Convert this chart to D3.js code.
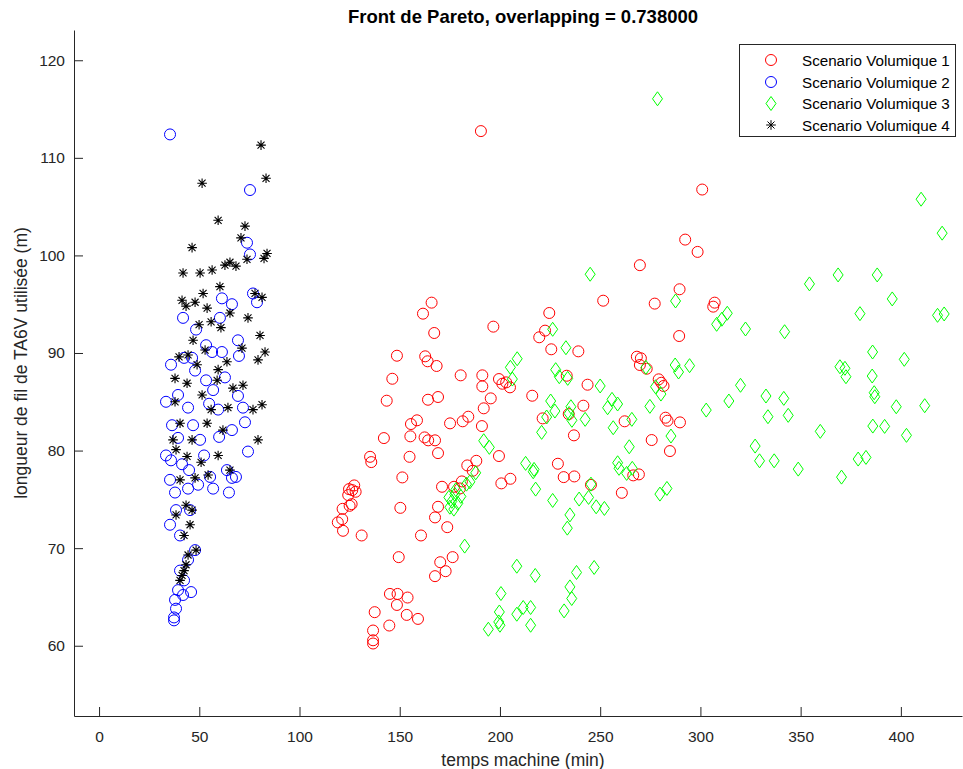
<!DOCTYPE html>
<html><head><meta charset="utf-8">
<script src="https://cdn.jsdelivr.net/npm/d3@7"></script>
<style>body{margin:0;background:#fff}svg{display:block}text{font-family:"Liberation Sans",Arial,sans-serif;fill:#262626}</style>
</head><body>
<svg id="c" width="963" height="769"></svg>
<script>
// Scenario Volumique 1 (red circles)
const s1x=[165.9,161.6,167.2,148.6,162.7,163.9,168.4,146.3,143.5,164.1,169.1,158.6,155.6,175.1,142.1,155.3,162.4,164.2,167.6,169.1,135.2,135.8,154.9,151.3,171.1,177.1,127.3,124.7,128.0,124.3,126.0,125.0,121.5,150.3,169.1,167.6,121.3,119.1,121.7,131.0,160.6,173.7,149.5,176.4,170.2,172.9,167.6,145.1,148.9,153.9,148.6,137.5,153.5,159.1,144.8,136.7,136.7,136.7,126.3,
251.5,224.6,196.7,222.5,219.6,225.6,239.1,180.4,191.2,191.2,199.5,201.2,203.1,205.0,233.3,243.7,216.1,195.4,191.9,241.6,184.2,181.4,221.3,234.3,191.0,236.9,199.5,188.2,183.7,186.4,228.9,231.8,237.1,200.7,205.2,245.4,181.0,180.0,
190.5,300.9,292.4,298.6,269.8,289.6,277.2,307.1,306.4,289.4,268.3,270.3,269.8,273.2,279.2,280.5,281.6,262.2,282.6,283.6,289.8,275.7,284.8,266.5,269.3,260.8];
const s1y=[95.16,94.03,92.05,89.72,89.66,89.15,88.67,87.36,85.11,85.21,85.49,83.10,82.72,82.79,81.28,81.46,81.35,81.05,81.05,79.74,79.36,78.82,79.36,77.25,76.29,76.29,76.43,76.05,75.78,75.44,74.51,74.34,74.03,74.13,74.24,73.15,72.97,72.64,71.78,71.30,71.30,72.15,69.08,69.08,68.56,67.64,67.13,65.31,65.31,64.94,64.18,63.44,63.16,62.75,62.07,61.56,60.56,60.23,75.95,
95.36,94.10,92.70,92.29,91.61,90.38,90.17,87.71,87.71,86.58,87.33,86.85,86.99,86.48,87.67,86.75,85.62,85.35,84.33,84.60,83.47,83.00,83.30,83.74,82.51,81.56,79.44,78.95,78.48,77.93,78.65,77.28,77.35,76.64,77.11,76.49,76.84,76.12,
112.74,106.75,101.62,100.36,99.00,96.53,95.06,95.16,94.75,91.74,89.62,89.46,88.77,88.39,87.30,86.95,86.62,83.00,83.37,83.06,82.89,81.08,79.95,77.46,77.56,75.67];

// Scenario Volumique 2 (blue circles)
const s2x=[35.4,75.3,73.8,75.3,61.3,76.8,78.8,41.9,60.3,66.3,48.4,69.3,53.4,42.4,46.4,56.4,61.3,69.8,62.8,35.9,47.9,53.4,56.9,39.4,44.4,54.9,69.3,71.8,59.4,33.4,36.4,46.9,66.3,39.4,50.4,59.9,72.8,52.4,33.4,35.9,41.4,44.9,55.4,63.8,66.3,68.3,74.3,49.4,56.9,64.8,35.4,37.9,44.4,38.4,35.4,40.4,45.4,47.9,44.4,40.4,42.4,39.4,37.9,38.4,37.4,37.4,45.9,41.9];
const s2y=[112.4,106.7,101.3,100.1,95.6,96.1,95.2,93.6,93.6,95.0,92.4,91.3,90.8,89.5,89.5,90.1,90.1,89.7,87.5,88.8,88.2,87.2,86.2,85.7,84.4,84.8,85.6,84.4,84.2,85.0,82.6,82.6,82.1,81.3,81.1,81.4,82.9,79.5,79.5,79.0,78.6,78.0,77.3,78.0,77.2,77.3,79.9,76.5,76.1,75.7,77.0,75.7,76.1,73.9,72.4,71.3,73.9,69.8,68.8,67.7,66.7,65.7,64.7,63.8,62.9,62.6,65.5,65.2];

// Scenario Volumique 3 (green diamonds)
const s3x=[226.3,232.9,208.6,205.2,206.2,227.8,229.6,233.8,250.0,255.9,253.7,258.7,225.3,227.4,223.3,220.8,235.4,235.9,234.5,242.5,256.5,191.9,194.7,212.8,217.0,216.6,217.8,226.3,239.5,244.2,245.4,248.0,252.1,234.9,233.6,258.7,259.4,187.9,185.0,183.3,
174.5,176.0,177.5,179.0,175.0,178.0,180.5,177.0,
182.4,208.4,217.6,238.2,247.0,200.5,199.7,199.4,200.0,194.2,208.4,211.6,215.3,215.3,234.9,235.8,232.0,245.0,
278.6,287.6,313.4,310.7,308.1,322.5,272.8,287.4,289.1,294.6,277.6,280.3,320.0,332.7,314.2,302.9,274.8,333.7,265.8,285.3,
264.5,327.3,329.5,336.8,266.0,263.2,279.8,283.3,
410.1,420.6,354.4,368.7,388.2,395.7,379.6,418.3,421.6,342.0,385.9,401.7,369.6,372.1,372.6,385.7,386.7,387.0,341.6,343.8,397.7,411.9,359.8,386.0,391.9,402.8,378.7,382.6,348.8,370.4];
const s3y=[92.43,90.54,89.41,88.53,87.33,88.29,87.57,87.40,86.62,85.25,84.39,84.77,85.08,84.05,83.44,81.87,84.49,83.10,83.8,83.20,82.34,81.01,80.33,78.69,78.07,77.83,76.05,74.89,75.03,75.20,76.56,74.24,74.07,73.41,72.05,78.75,78.18,77.72,76.80,76.56,
75.2,74.8,75.5,74.6,74.2,76.0,75.3,74.0,
70.21,68.15,67.20,67.51,68.02,65.35,63.46,62.44,62.10,61.69,63.23,63.92,63.92,62.10,66.03,64.84,63.57,98.07,
116.05,95.33,94.07,93.46,92.94,92.46,88.53,88.77,88.05,88.70,86.54,85.79,86.69,85.59,85.08,84.15,84.53,83.47,83.20,81.49,
80.39,80.46,78.95,78.95,78.18,77.66,75.54,76.12,
105.76,102.28,97.08,98.00,98.00,95.54,94.03,93.86,94.00,92.18,90.10,89.35,88.59,88.43,87.57,87.64,85.93,85.52,85.35,83.61,84.49,84.60,81.97,82.51,82.48,81.56,79.13,79.30,78.10,77.28];

// Scenario Volumique 4 (black asterisks)
const s4x=[80.8,83.3,51.4,46.4,72.8,59.4,70.8,82.3,83.8,73.8,62.8,68.3,65.3,56.4,50.4,41.9,60.3,51.9,77.8,81.3,41.4,43.4,47.9,53.9,65.3,74.3,49.9,55.9,60.8,46.9,80.3,82.8,71.3,52.9,44.4,39.9,48.9,63.8,59.4,79.3,37.9,43.9,51.4,58.9,66.8,71.8,37.9,55.9,64.3,76.8,81.3,40.4,53.9,61.8,36.9,46.4,79.3,38.4,43.9,50.9,59.4,65.3,47.9,54.4,40.4,43.4,46.4,38.4,45.4,42.4,48.4,44.4,43.4,42.4,41.4,40.4];
const s4y=[111.3,107.9,107.4,100.8,103.0,103.6,101.8,99.7,100.2,99.6,99.0,98.9,99.3,98.5,98.2,98.2,96.8,96.1,96.1,95.7,95.4,94.8,95.2,94.6,94.1,93.6,92.9,93.2,92.6,91.3,91.8,90.1,90.5,90.3,89.8,89.6,88.8,89.1,88.3,89.3,87.4,86.9,85.7,87.2,86.4,86.7,85.0,84.2,84.4,84.2,84.7,82.8,82.8,82.1,81.1,81.1,81.1,80.1,79.4,78.8,79.5,78.0,77.2,77.5,77.0,74.4,73.9,73.4,72.4,71.3,69.8,69.3,68.3,67.7,67.2,66.7];

const xTicks=[0,50,100,150,200,250,300,350,400];
const yTicks=[60,70,80,90,100,110,120];
const seriesNames=["Scenario Volumique 1","Scenario Volumique 2","Scenario Volumique 3","Scenario Volumique 4"];

const svg=d3.select("#c");
const L=74,R=962,T=30,B=716;
const x=d3.scaleLinear().domain([-12.5,430.5]).range([L,R]);
const y=d3.scaleLinear().domain([52.8,123.1]).range([B,T]);
const axisCol="#262626";

const gx=svg.append("g").attr("transform",`translate(0,${B})`)
  .call(d3.axisBottom(x).tickValues(xTicks).tickFormat(d3.format("d")).tickSizeInner(-9).tickSizeOuter(0).tickPadding(15));
const gy=svg.append("g").attr("transform",`translate(${L},0)`)
  .call(d3.axisLeft(y).tickValues(yTicks).tickFormat(d3.format("d")).tickSizeInner(-9).tickSizeOuter(0).tickPadding(9));
[gx,gy].forEach(g=>{
  g.select(".domain").attr("stroke",axisCol).attr("stroke-width",1);
  g.selectAll(".tick line").attr("stroke",axisCol);
  g.selectAll(".tick text").attr("fill",axisCol).style("font-size","15.5px").style("font-family","'Liberation Sans',Arial,sans-serif");
});

const plot=svg.append("g");
function circles(xs,ys,col){
  plot.append("g").selectAll("circle").data(xs.map((v,i)=>[v,ys[i]])).join("circle")
    .attr("cx",d=>x(d[0])).attr("cy",d=>y(d[1])).attr("r",5.5)
    .attr("fill","none").attr("stroke",col).attr("stroke-width",1);
}
const diamond=(cx,cy)=>`M${cx},${cy-7}L${cx+5},${cy}L${cx},${cy+7}L${cx-5},${cy}Z`;
const star=(cx,cy)=>{const a=4.8,b=3.5;return `M${cx-a},${cy}L${cx+a},${cy}M${cx},${cy-a}L${cx},${cy+a}M${cx-b},${cy-b}L${cx+b},${cy+b}M${cx-b},${cy+b}L${cx+b},${cy-b}`;};

circles(s1x,s1y,"#ff0000");
circles(s2x,s2y,"#0000ff");
plot.append("g").selectAll("path").data(s3x.map((v,i)=>[v,s3y[i]])).join("path")
  .attr("d",d=>diamond(x(d[0]),y(d[1]))).attr("fill","none").attr("stroke","#00ff00").attr("stroke-width",1);
plot.append("g").selectAll("path").data(s4x.map((v,i)=>[v,s4y[i]])).join("path")
  .attr("d",d=>star(x(d[0]),y(d[1]))).attr("fill","none").attr("stroke","#000").attr("stroke-width",1.1);

// title & labels
svg.append("text").attr("x",(L+R)/2+5).attr("y",23).attr("text-anchor","middle")
  .style("font-size","18.5px").style("font-weight","bold").style("fill","#000").text("Front de Pareto, overlapping = 0.738000");
svg.append("text").attr("x",(L+R)/2+5).attr("y",766).attr("text-anchor","middle")
  .style("font-size","17.5px").text("temps machine (min)");
svg.append("text").attr("transform",`translate(27,${(T+B)/2-10}) rotate(-90)`).attr("text-anchor","middle")
  .style("font-size","17.5px").text("longueur de fil de TA6V utilisée (m)");

// legend
const lg=svg.append("g");
lg.append("rect").attr("x",739.5).attr("y",44.5).attr("width",216).attr("height",92).attr("fill","#fff").attr("stroke",axisCol).attr("stroke-width",1);
const rowsY=[60,82,103.5,125];
seriesNames.forEach((n,i)=>{
  const cy=rowsY[i],cx=771;
  if(i<2) lg.append("circle").attr("cx",cx).attr("cy",cy).attr("r",5.5).attr("fill","none").attr("stroke",i===0?"#ff0000":"#0000ff");
  else if(i===2) lg.append("path").attr("d",diamond(cx,cy)).attr("fill","none").attr("stroke","#00ff00");
  else lg.append("path").attr("d",star(cx,cy)).attr("fill","none").attr("stroke","#000");
  lg.append("text").attr("x",802).attr("y",cy+5.5).style("font-size","15.2px").style("fill","#000").text(n);
});
</script>
</body></html>
